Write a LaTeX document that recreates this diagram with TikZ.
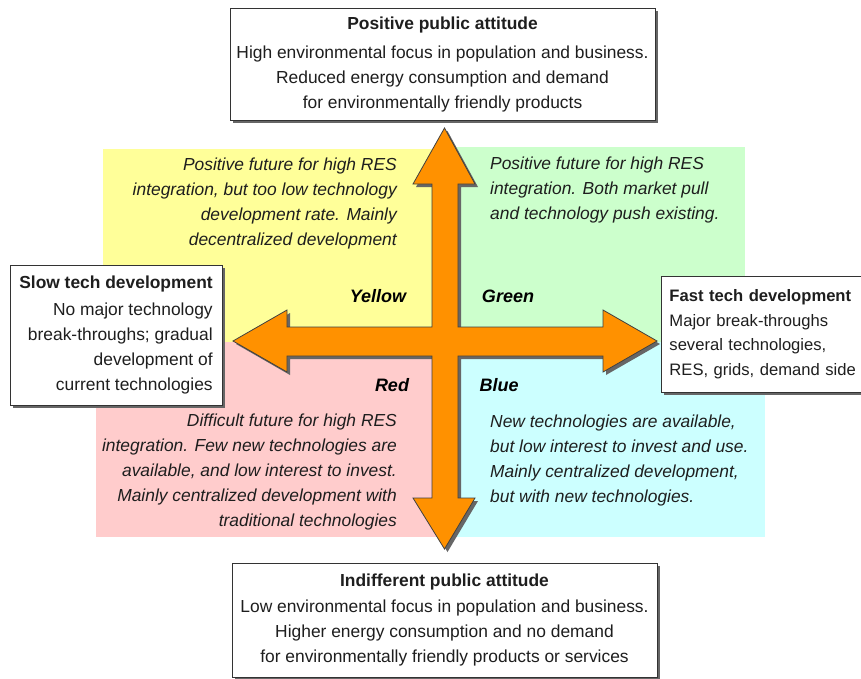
\documentclass[tikz,border=0pt]{standalone}
\usepackage{fontspec}
\setmainfont{Liberation Sans}
\usetikzlibrary{shadows}
\definecolor{qyellow}{RGB}{255,255,153}
\definecolor{qgreen}{RGB}{204,255,204}
\definecolor{qred}{RGB}{255,204,204}
\definecolor{qblue}{RGB}{204,255,255}
\definecolor{arroworange}{RGB}{255,145,0}
\definecolor{txt}{RGB}{30,30,30}
\tikzset{
  box/.style={draw=black!80, line width=0.9pt, fill=white, inner sep=0pt,
    drop shadow={shadow xshift=3pt, shadow yshift=-3pt, fill=black!60, opacity=1},
    font=\fontsize{17.4}{25}\selectfont, text=txt},
  qtext/.style={inner sep=0pt, font=\fontsize{17.4}{25}\selectfont\itshape, text=txt},
  qlabel/.style={inner sep=0pt, font=\fontsize{18}{20}\selectfont\bfseries\itshape, text=black},
  bigarrow/.style={fill=arroworange, draw=black!75, line width=0.8pt, line join=miter,
    drop shadow={shadow xshift=3pt, shadow yshift=-3pt, fill=black!60, opacity=1}},
}
\begin{document}
\begin{tikzpicture}[x=1pt,y=-1pt]
\useasboundingbox (0,0) rectangle (861,678);
\clip (0,0) rectangle (861,678);
% quadrants
\fill[qyellow] (103,149) rectangle (445,342);
\fill[qgreen] (445,147) rectangle (745,342);
\fill[qred] (96,342) rectangle (445,537);
\fill[qblue] (445,342) rectangle (765,537);
% cross arrow
\draw[bigarrow] (444.5,128) -- (475,184) -- (458,184) -- (458,327) -- (603,327) -- (603,310)
  -- (657,341) -- (603,372) -- (603,356) -- (458,356) -- (458,498) -- (475,498)
  -- (444.5,549) -- (413,498) -- (432,498) -- (432,356) -- (287,356) -- (287,372)
  -- (233,341) -- (287,310) -- (287,327) -- (432,327) -- (432,184) -- (413,184) -- cycle;
% quadrant texts
\node[qtext, anchor=east, align=right] (ytext) at (397,203)
  {Positive future for high RES\\integration, but too low technology\\development rate. Mainly\\decentralized development};
\node[qtext, anchor=west, align=left] (gtext) at (490,190)
  {Positive future for high RES\\integration. Both market pull\\and technology push existing.};
\node[qtext, anchor=east, align=right] (rtext) at (397,472)
  {Difficult future for high RES\\integration. Few new technologies are\\available, and low interest to invest.\\Mainly centralized development with\\traditional technologies};
\node[qtext, anchor=west, align=left] (btext) at (490,460)
  {New technologies are available,\\but low interest to invest and use.\\Mainly centralized development,\\but with new technologies.};
% labels
\node[qlabel] (ylab) at (378,296) {Yellow};
\node[qlabel] (glab) at (508,296) {Green};
\node[qlabel] (rlab) at (392,385) {Red};
\node[qlabel] (blab) at (499,385) {Blue};
% boxes
\node[box, minimum width=425pt, minimum height=112pt, align=center] (top) at (442.5,64)
  {\textbf{Positive public attitude}\\[4pt]High environmental focus in population and business.\\Reduced energy consumption and demand\\for environmentally friendly products};
\node[box, minimum width=425pt, minimum height=114pt, align=center] (bottom) at (444.5,620)
  {\textbf{Indifferent public attitude}\\[1pt]Low environmental focus in population and business.\\Higher energy consumption and no demand\\for environmentally friendly products or services};
\node[box, minimum width=212pt, minimum height=140pt, align=right] (slow) at (116,335)
  {\textbf{Slow tech development}\\[2pt]No major technology\\break-throughs; gradual\\development of\\current technologies};
\node[box, anchor=west, text width=200pt, inner xsep=8pt, minimum height=116pt, align=left,
  font=\fontsize{16.6}{24.5}\selectfont] (fast) at (661,334)
  {\textbf{Fast tech development}\\Major break-throughs\\several technologies,\\RES, grids, demand side};
\end{tikzpicture}
\end{document}
